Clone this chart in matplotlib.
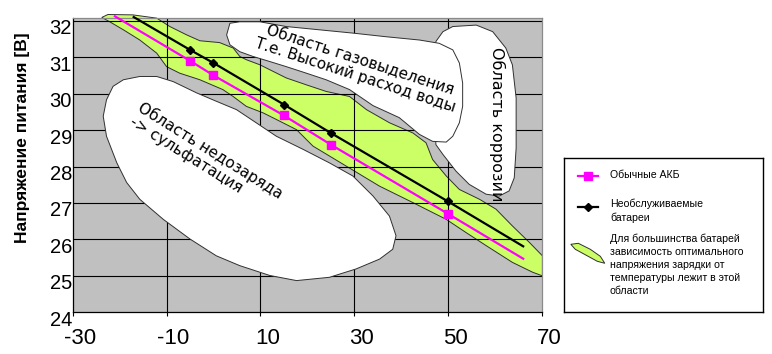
import matplotlib
matplotlib.use("Agg")
import matplotlib.pyplot as plt
import matplotlib.transforms as mtransforms
from matplotlib.patches import Polygon

plt.rcParams['font.family'] = ['Liberation Sans', 'DejaVu Sans']
plt.rcParams['axes.unicode_minus'] = False

# series: temperature (C) vs charge voltage (V)
temp_akb = [-21, -5, 0, 15, 25, 50, 66]
volt_akb = [32.12, 30.9, 30.5, 29.4, 28.6, 26.7, 25.47]
temp_mf = [-17, -5, 0, 15, 25, 50, 66]
volt_mf = [32.1, 31.2, 30.84, 29.7, 28.92, 27.04, 25.81]

# region outlines (temperature, voltage)
band_t = [-23.8, -22.5, -17.2, -12.1, -9.3, -5.7, -2.9, 1.3, 4.2, 5.6, 7.0, 9.9, 12.7,
          15.5, 19.8, 24.0, 29.0, 32.6, 37.5, 42.5, 45.3, 46.7, 49.6, 52.4, 56.7, 60.2,
          63.7, 67.3, 70.1,
          70.1, 68.0, 63.7, 58.1, 53.8, 49.6, 42.5, 35.4, 28.3, 21.2, 17.7, 13.4, 10.6,
          7.0, 4.2, 2.0, -2.9, -7.2, -10.0, -12.1, -15.7, -19.2, -22.1]
band_v = [32.09, 32.17, 32.16, 32.07, 31.84, 31.61, 31.45, 31.40, 31.25, 31.02, 30.93, 30.79, 30.61,
          30.43, 30.24, 30.06, 29.92, 29.56, 29.20, 28.92, 28.65, 28.19, 27.74, 27.37, 27.10, 26.83,
          26.37, 25.92, 25.55,
          25.0, 25.10, 25.37, 25.83, 26.19, 26.55, 27.01, 27.46, 28.01, 28.56, 29.01, 29.29, 29.47,
          29.65, 29.92, 30.11, 30.38, 30.56, 30.74, 31.11, 31.47, 31.75, 31.97]

under_t = [-21.4, -19.2, -15.7, -12.1, -8.6, -3.6, 0.6, 4.9, 9.1, 13.4, 19.1, 24.7, 29.7, 34.0,
           37.5, 38.9, 38.2, 35.4, 30.4, 24.7, 17.7, 12.0, 5.6, 0.6, -5.0, -10.7, -15.7, -18.5,
           -20.6, -22.8, -23.5, -22.8]
under_v = [30.20, 30.38, 30.47, 30.47, 30.33, 30.02, 29.79, 29.56, 29.20, 28.83, 28.47, 28.10,
           27.74, 27.19, 26.64, 26.10, 25.73, 25.46, 25.19, 24.96, 24.87, 25.01, 25.28, 25.55,
           26.01, 26.55, 27.10, 27.56, 28.10, 28.83, 29.38, 29.83]

gas_t = [3.5, 5.6, 9.9, 15.5, 22.6, 29.7, 36.8, 43.9, 48.1, 51.0, 52.4, 53.1, 53.1, 52.4, 51.0,
         49.6, 46.7, 43.9, 39.6, 34.0, 29.0, 24.0, 19.8, 15.5, 12.0, 8.4, 5.6, 3.5, 2.8]
gas_v = [31.93, 31.97, 31.97, 31.84, 31.75, 31.66, 31.56, 31.47, 31.38, 31.20, 30.84, 30.29,
         29.65, 29.20, 28.83, 28.67, 28.69, 28.88, 29.34, 29.67, 30.11, 30.38, 30.56, 30.74,
         30.88, 31.02, 31.15, 31.34, 31.61]

corr_t = [47.4, 48.9, 51.0, 56.0, 59.5, 62.3, 63.7, 64.5, 64.5, 64.1, 63.0, 60.9, 58.1, 54.5,
          51.7, 48.9, 47.4, 47.0]
corr_v = [31.43, 31.70, 31.84, 31.88, 31.70, 31.25, 30.79, 29.88, 28.51, 27.69, 27.33, 27.19,
          27.24, 27.51, 27.87, 28.33, 28.60, 30.0]

x_ticks = [-30, -10, 10, 30, 50, 70]
y_ticks = [24, 25, 26, 27, 28, 29, 30, 31, 32]

fig = plt.figure(figsize=(7.72, 3.54), dpi=100)
ax = fig.add_axes([0.0942, 0.1178, 0.6078, 0.8304])
ax.set_facecolor('#c0c0c0')
ax.set_xlim(-30, 70)
ax.set_ylim(24, 32.065)

# green band under the grid, white areas over it
ax.add_patch(Polygon(list(zip(band_t, band_v)), closed=True, facecolor='#ccff66',
                     edgecolor='#303030', lw=0.7, zorder=1, clip_on=False))
for yy in y_ticks[1:]:
    ax.axhline(yy, color='black', lw=0.8, zorder=2)
for xx in x_ticks[1:-1]:
    ax.axvline(xx, color='black', lw=0.8, zorder=2)

ax.add_patch(Polygon(list(zip(under_t, under_v)), closed=True, facecolor='white',
                     edgecolor='#303030', lw=0.7, zorder=3))
ax.add_patch(Polygon(list(zip(corr_t, corr_v)), closed=True, facecolor='white',
                     edgecolor='#303030', lw=0.7, zorder=3))
ax.add_patch(Polygon(list(zip(gas_t, gas_v)), closed=True, facecolor='white',
                     edgecolor='#303030', lw=0.7, zorder=3.5))

ax.plot(temp_akb, volt_akb, color='#ff00ff', lw=1.6, marker='s', ms=6,
        markevery=[1, 2, 3, 4, 5], zorder=5, clip_on=False)
ax.plot(temp_mf, volt_mf, color='black', lw=1.6, marker='D', ms=4,
        markevery=[1, 2, 3, 4, 5], zorder=5, clip_on=False)

ax.text(-1.5, 28.25, "Область недозаряда\n-> сульфатация", rotation=-32,
        rotation_mode='anchor', ha='center', va='center', multialignment='left',
        fontsize=11, family='DejaVu Sans', zorder=6, linespacing=1.1)
ax.text(30.8, 30.72, "Область газовыделения\nТ.е. Высокий расход воды", rotation=-18,
        rotation_mode='anchor', ha='center', va='center', multialignment='center',
        fontsize=11, family='DejaVu Sans', zorder=6, linespacing=1.1)
ax.text(60.5, 29.15, "Область коррозии", rotation=-90, rotation_mode='anchor',
        ha='center', va='center', fontsize=11.5, family='DejaVu Sans', zorder=6)

ax.set_xticks(x_ticks)
ax.set_yticks(y_ticks)
ax.tick_params(axis='x', direction='out', length=3, width=0.8, pad=8, labelsize=16)
ax.tick_params(axis='y', length=0, pad=0.5, labelsize=14.5)
for sp in ['left', 'bottom']:
    ax.spines[sp].set_color('black')
    ax.spines[sp].set_linewidth(0.9)
for sp in ['top', 'right']:
    ax.spines[sp].set_color('#8a8a8a')
    ax.spines[sp].set_linewidth(0.9)

shift_x = mtransforms.ScaledTranslation(7 / 100, 0, fig.dpi_scale_trans)
for lab in ax.get_xticklabels():
    lab.set_transform(lab.get_transform() + shift_x)
shift_y = mtransforms.ScaledTranslation(0, -6 / 100, fig.dpi_scale_trans)
for lab in ax.get_yticklabels():
    lab.set_transform(lab.get_transform() + shift_y)

fig.text(22.5 / 772, 1 - 138 / 354, "Напряжение питания [В]", rotation=90,
         ha='center', va='center', fontsize=12.5, fontweight='bold')

# legend box drawn in pixel-like units
lg = fig.add_axes([564.3 / 772, 1 - 311.7 / 354, 199 / 772, 153.4 / 354])
lg.set_xlim(0, 199)
lg.set_ylim(153.4, 0)
lg.set_xticks([])
lg.set_yticks([])
for sp in lg.spines.values():
    sp.set_linewidth(1.0)
    sp.set_color('black')
lg.plot([13.4, 33.4], [17.4, 17.4], color='#ff00ff', lw=1.6)
lg.plot([23.4], [17.4], color='#ff00ff', marker='s', ms=6)
lg.plot([13.4, 33.4], [48.4, 48.4], color='black', lw=1.6)
lg.plot([23.4], [48.4], color='black', marker='D', ms=4)
lg.add_patch(Polygon([(6.5, 86), (14, 85), (26, 91), (36, 98), (40.5, 105), (33, 103),
                      (22, 97), (11, 91)], closed=True, facecolor='#ccff66',
                     edgecolor='#303030', lw=0.7))
fs = 7.6
lg.text(45.7, 16.5, "Обычные АКБ", fontsize=fs, va='center')
lg.text(45.7, 40, "Необслуживаемые\nбатареи", fontsize=fs, va='top', linespacing=1.45)
lg.text(45.7, 75, "Для большинства батарей\nзависимость оптимального\n"
        "напряжения зарядки от\nтемпературы лежит в этой\nобласти",
        fontsize=fs, va='top', linespacing=1.38)

fig.savefig("out.png", dpi=100)
